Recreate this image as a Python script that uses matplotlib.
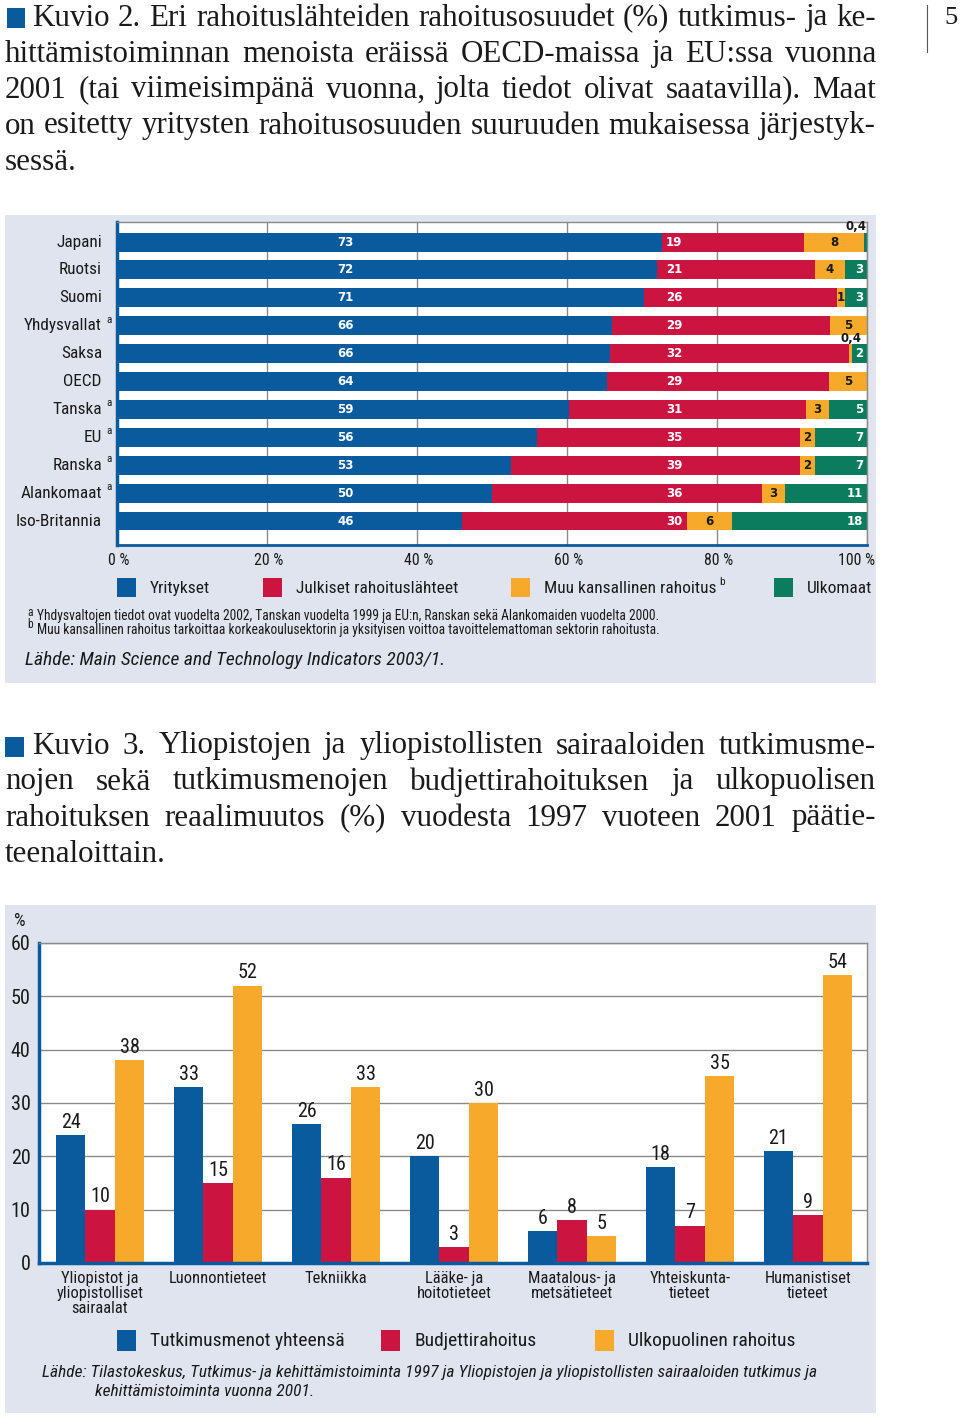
import matplotlib
matplotlib.use("Agg")
import numpy as np
import matplotlib.pyplot as plt
from matplotlib import font_manager
from matplotlib.patches import Rectangle
from matplotlib.lines import Line2D

# ---- data: figure 2 (funding shares, %) ----
countries = ["Japani", "Ruotsi", "Suomi", "Yhdysvallat", "Saksa", "OECD",
             "Tanska", "EU", "Ranska", "Alankomaat", "Iso-Britannia"]
country_note = ["", "", "", "a", "", "", "a", "a", "a", "a", ""]
yritykset = [73, 72, 71, 66, 66, 64, 59, 56, 53, 50, 46]
julkiset = [19, 21, 26, 29, 32, 29, 31, 35, 39, 36, 30]
muu_kansallinen = [8, 4, 1, 5, 0.4, 5, 3, 2, 2, 3, 6]
ulkomaat = [0.4, 3, 3, 0, 2, 0, 5, 7, 7, 11, 18]
share_ticks = [0, 20, 40, 60, 80, 100]

# ---- data: figure 3 (real change 1997-2001, %) ----
fields = ["Yliopistot ja\nyliopistolliset\nsairaalat", "Luonnontieteet", "Tekniikka",
          "Lääke- ja\nhoitotieteet", "Maatalous- ja\nmetsätieteet",
          "Yhteiskunta-\ntieteet", "Humanistiset\ntieteet"]
menot_yhteensa = [24, 33, 26, 20, 6, 18, 21]
budjetti = [10, 15, 16, 3, 8, 7, 9]
ulkopuolinen = [38, 52, 33, 30, 5, 35, 54]
change_ticks = [0, 10, 20, 30, 40, 50, 60]

BLUE = "#0a5a9e"
RED = "#cc1440"
ORANGE = "#f7a92c"
GREEN = "#0b7d5e"
PANEL = "#dfe4ee"
GRID = "#8a8a8a"
TXT = "#1a1a1a"

names = {f.name for f in font_manager.fontManager.ttflist}
COND = "DejaVu Sans"
for cand in ["Roboto Condensed", "Liberation Sans Narrow", "DejaVu Sans Condensed",
             "Open Sans Condensed", "Noto Sans Condensed", "Roboto", "Liberation Sans"]:
    if cand in names:
        COND = cand
        break
SERIF = "Liberation Serif" if "Liberation Serif" in names else "DejaVu Serif"
BUMP = 1.08  # reference font is taller than ours at the same width

W, H = 960, 1423
fig = plt.figure(figsize=(W / 100, H / 100), dpi=100)
renderer = fig.canvas.get_renderer()


def fx(px):
    return px / W


def fy(py):
    return 1 - py / H


def rect(x0, y0, x1, y1, color, z=0):
    fig.add_artist(Rectangle((fx(x0), fy(y1)), fx(x1) - fx(x0), fy(y0) - fy(y1),
                             transform=fig.transFigure, facecolor=color,
                             edgecolor="none", zorder=z))


def ftext(px, py, s, **kw):
    kw.setdefault("color", TXT)
    return fig.text(fx(px), fy(py), s, **kw)


def width_px(s, size, family, **kw):
    t = fig.text(0, 0, s, fontsize=size, family=family, **kw)
    w = t.get_window_extent(renderer).width
    t.remove()
    return w


def fit(s, target, family=COND, cap=None, **kw):
    size = 10 * target / width_px(s, 10, family, **kw)
    return min(size, cap) if cap else size


def justify(line, x0, x1, py, size, just=True):
    words = line.split(" ")
    arts = [ftext(0, py, w, fontsize=size, family=SERIF, va="center") for w in words]
    widths = [a.get_window_extent(renderer).width for a in arts]
    if just and len(words) > 1:
        gap = (x1 - x0 - sum(widths)) / (len(words) - 1)
    else:
        gap = width_px("a a", size, SERIF) - width_px("aa", size, SERIF)
    x = x0
    for a, w in zip(arts, widths):
        a.set_x(fx(x))
        x += w + gap


# ---- page header ----
title2 = ["Kuvio 2. Eri rahoituslähteiden rahoitusosuudet (%) tutkimus- ja ke-",
          "hittämistoiminnan menoista eräissä OECD-maissa ja EU:ssa vuonna",
          "2001 (tai viimeisimpänä vuonna, jolta tiedot olivat saatavilla). Maat",
          "on esitetty yritysten rahoitusosuuden suuruuden mukaisessa järjestyk-",
          "sessä."]
title3 = ["Kuvio 3. Yliopistojen ja yliopistollisten sairaaloiden tutkimusme-",
          "nojen sekä tutkimusmenojen budjettirahoituksen ja ulkopuolisen",
          "rahoituksen reaalimuutos (%) vuodesta 1997 vuoteen 2001 päätie-",
          "teenaloittain."]
TSIZE = min(fit(title2[3], 866, SERIF), fit(title2[2], 866, SERIF),
            fit(title2[0], 840, SERIF), 24)

rect(7, 8, 25, 28, BLUE, 3)
for i, line in enumerate(title2):
    x0 = 32 if i == 0 else 5
    justify(line, x0, 876, 18 + 36 * i, TSIZE, just=i < len(title2) - 1)

rect(5, 737, 24, 757, BLUE, 3)
for i, line in enumerate(title3):
    x0 = 32 if i == 0 else 5
    justify(line, x0, 876, 746 + 36 * i, TSIZE, just=i < len(title3) - 1)

fig.add_artist(Line2D([fx(927), fx(927)], [fy(5), fy(52)], transform=fig.transFigure,
                      color="#555555", lw=0.8))
ftext(951, 18, "5", fontsize=19, family=SERIF, ha="center", va="center")

# ---- panel 1: stacked horizontal bars ----
rect(5, 215, 876, 683, PANEL, -1)
ax1 = fig.add_axes([fx(117), fy(545), fx(867) - fx(117), fy(222) - fy(545)])
ax1.set_facecolor("white")
parts = np.array([yritykset, julkiset, muu_kansallinen, ulkomaat], dtype=float)
shares = parts / parts.sum(axis=0) * 100
ypos = np.arange(len(countries))
left = np.zeros(len(countries))
for vals, col in zip(shares, [BLUE, RED, ORANGE, GREEN]):
    ax1.barh(ypos, vals, left=left, height=0.68, color=col, zorder=2)
    left += vals
ax1.set_xlim(0, 100)
ax1.set_ylim(len(countries) - 1 + 0.86, -0.72)
ax1.set_xticks(share_ticks)
ax1.set_yticks([])
ax1.tick_params(axis="x", length=0, labelbottom=False)
ax1.grid(axis="x", color=GRID, lw=1, zorder=0)
for s in ["top", "right"]:
    ax1.spines[s].set_color(GRID)
    ax1.spines[s].set_linewidth(1)
ax1.spines["left"].set_color(BLUE)
ax1.spines["left"].set_linewidth(2.5)
ax1.spines["bottom"].set_color(BLUE)
ax1.spines["bottom"].set_linewidth(2)


def fmt(v):
    return str(v).replace(".", ",") if v != int(v) else str(int(v))


lab = dict(fontsize=8.5, fontweight="bold", family="DejaVu Sans", va="center", zorder=4)
for i in range(len(countries)):
    b, r, o, g = shares[:, i]
    ax1.text(30.5, i, fmt(yritykset[i]), color="white", ha="center", **lab)
    ax1.text(74.3, i, fmt(julkiset[i]), color="white", ha="center", **lab)
    if muu_kansallinen[i] >= 1:
        ax1.text(b + r + o / 2, i, fmt(muu_kansallinen[i]), color=TXT, ha="center", **lab)
    elif muu_kansallinen[i] > 0:
        ax1.text(b + r + o / 2, i - 0.55, fmt(muu_kansallinen[i]), color=TXT, ha="center", **lab)
    if ulkomaat[i] >= 1:
        ax1.text(99.5, i, fmt(ulkomaat[i]), color="white", ha="right", **lab)
    elif ulkomaat[i] > 0:
        ax1.text(100, i - 0.55, fmt(ulkomaat[i]), color=TXT, ha="right", **lab)

RSIZE = fit("Alankomaat", 75, cap=11.5) * BUMP
for i, (c, n) in enumerate(zip(countries, country_note)):
    yy = 242 + i * 27.9
    ftext(102, yy, c, fontsize=RSIZE, family=COND, ha="right", va="center")
    if n:
        ftext(106, yy - 6, n, fontsize=RSIZE * 0.65, family=COND, ha="left", va="center")

XSIZE = fit("100 %", 32, cap=10.5) * 1.15
for t in share_ticks:
    px = 117 + t * 7.5
    if t == 100:
        ftext(875, 561, f"{t} %", fontsize=XSIZE, family=COND, ha="right", va="center")
    else:
        ftext(px + 2, 561, f"{t} %", fontsize=XSIZE, family=COND, ha="center", va="center")

LSIZE = fit("Julkiset rahoituslähteet", 148, cap=12) * BUMP
leg1 = [("Yritykset", BLUE, 117), ("Julkiset rahoituslähteet", RED, 263),
        ("Muu kansallinen rahoitus", ORANGE, 511), ("Ulkomaat", GREEN, 774)]
for name, col, px in leg1:
    rect(px, 578, px + 19, 597, col, 3)
    t = ftext(px + 33, 588, name, fontsize=LSIZE, family=COND, va="center")
    if col == ORANGE:
        x_end = px + 33 + t.get_window_extent(renderer).width
        ftext(x_end + 3, 582, "b", fontsize=LSIZE * 0.65, family=COND, va="center")

note_a = ("Yhdysvaltojen tiedot ovat vuodelta 2002, Tanskan vuodelta 1999 ja EU:n, "
          "Ranskan sekä Alankomaiden vuodelta 2000.")
note_b = ("Muu kansallinen rahoitus tarkoittaa korkeakoulusektorin ja yksityisen "
          "voittoa tavoittelemattoman sektorin rahoitusta.")
NSIZE = min(fit(note_a, 620, cap=10.5), fit(note_b, 627, cap=10.5))
ftext(27, 612, "a", fontsize=NSIZE * 0.85, family=COND, va="center")
ftext(37, 616, note_a, fontsize=NSIZE, family=COND, va="center")
ftext(27, 625, "b", fontsize=NSIZE * 0.85, family=COND, va="center")
ftext(37, 630, note_b, fontsize=NSIZE, family=COND, va="center")
src1 = "Lähde: Main Science and Technology Indicators 2003/1."
ftext(25, 660, src1, fontsize=fit(src1, 400, cap=13, style="italic") * BUMP, family=COND,
      style="italic", va="center")

# ---- panel 2: grouped vertical bars ----
rect(5, 905, 876, 1413, PANEL, -1)
ax2 = fig.add_axes([fx(39), fy(1263), fx(867) - fx(39), fy(943) - fy(1263)])
ax2.set_facecolor("white")
xpos = np.arange(len(fields))
bw = 0.25
VSIZE = fit("52", 18, cap=14) * 1.1
for off, vals, col in [(-bw, menot_yhteensa, BLUE), (0, budjetti, RED), (bw, ulkopuolinen, ORANGE)]:
    bars = ax2.bar(xpos + off, vals, width=bw, color=col, zorder=2)
    for rct, v in zip(bars, vals):
        ax2.text(rct.get_x() + rct.get_width() / 2, v + 0.6, str(v), ha="center", va="bottom",
                 fontsize=VSIZE, family=COND, color=TXT, zorder=4)
ax2.set_xlim(-0.517, 6.5)
ax2.set_ylim(0, 60)
ax2.set_yticks(change_ticks)
ax2.set_yticklabels([str(t) for t in change_ticks], fontsize=VSIZE, family=COND, color=TXT)
ax2.set_xticks(xpos)
CSIZE = fit("Luonnontieteet", 90, cap=12) * BUMP
ax2.set_xticklabels(fields, fontsize=CSIZE, family=COND, color=TXT, linespacing=1.0)
ax2.tick_params(length=0)
ax2.tick_params(axis="y", pad=6)
ax2.tick_params(axis="x", pad=6)
ax2.grid(axis="y", color=GRID, lw=1, zorder=0)
for s in ["top", "right"]:
    ax2.spines[s].set_color(GRID)
    ax2.spines[s].set_linewidth(1)
ax2.spines["left"].set_color(BLUE)
ax2.spines["left"].set_linewidth(2.5)
ax2.spines["bottom"].set_color(BLUE)
ax2.spines["bottom"].set_linewidth(2.5)
ftext(20, 921, "%", fontsize=CSIZE * 1.1, family=COND, ha="center", va="center")

L2SIZE = fit("Tutkimusmenot yhteensä", 180, cap=13) * BUMP
leg2 = [("Tutkimusmenot yhteensä", BLUE, 117), ("Budjettirahoitus", RED, 381),
        ("Ulkopuolinen rahoitus", ORANGE, 595)]
for name, col, px in leg2:
    rect(px, 1330, px + 19, 1351, col, 3)
    ftext(px + 33, 1341, name, fontsize=L2SIZE, family=COND, va="center")

src2a = ("Lähde: Tilastokeskus, Tutkimus- ja kehittämistoiminta 1997 ja Yliopistojen ja "
         "yliopistollisten sairaaloiden tutkimus ja")
src2b = "kehittämistoiminta vuonna 2001."
S2SIZE = fit(src2a, 822, cap=12.5, style="italic")
ftext(42, 1373, src2a, fontsize=S2SIZE, family=COND, style="italic", va="center")
ftext(95, 1391, src2b, fontsize=S2SIZE, family=COND, style="italic", va="center")

fig.savefig("out.png", dpi=100, facecolor="white")
